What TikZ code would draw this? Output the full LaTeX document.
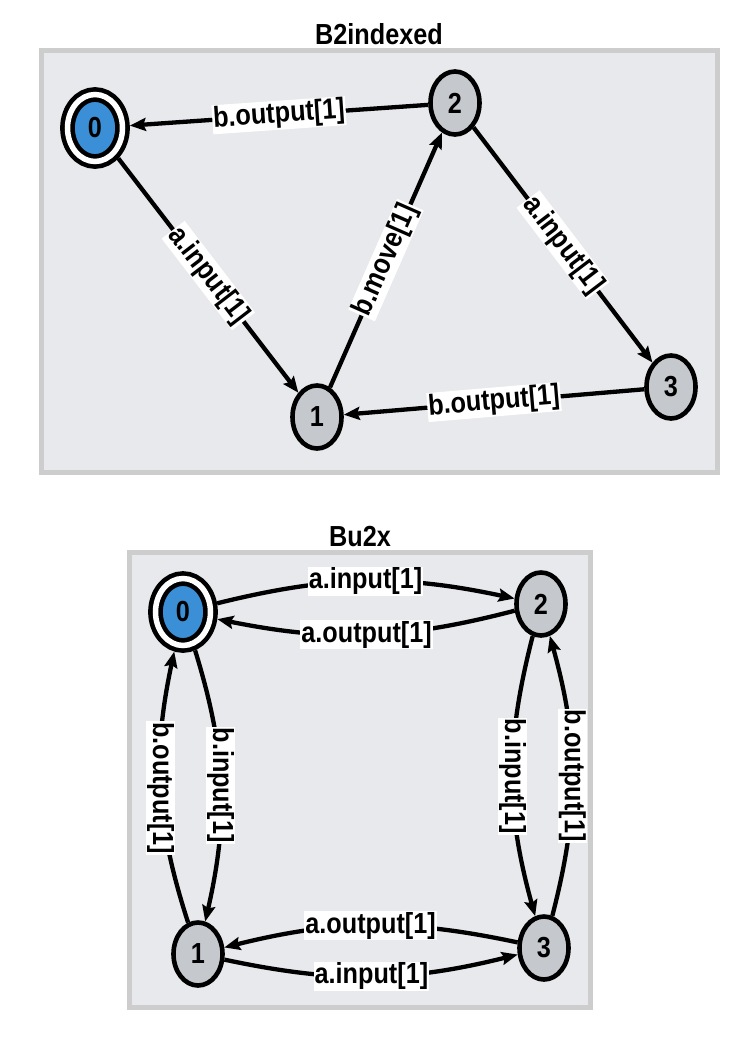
\documentclass[tikz,border=0pt]{standalone}
\usepackage{fontspec}
\setmainfont{Liberation Sans}[FakeStretch=0.87]
\usetikzlibrary{shapes.geometric,arrows.meta}
\definecolor{panelbg}{HTML}{E8E9EC}
\definecolor{panelline}{HTML}{CDCDCD}
\definecolor{stategray}{HTML}{C5C9CE}
\definecolor{startblue}{HTML}{3A8FD6}
\begin{document}
\begin{tikzpicture}[x=1pt,y=-1pt,
    font=\fontsize{29}{32}\selectfont\bfseries,
    state/.style={ellipse,draw,line width=4.6pt,fill=stategray,minimum width=49pt,minimum height=63pt,inner sep=0pt},
    start/.style={ellipse,draw,line width=4.6pt,double=white,double distance=5.5pt,fill=startblue,minimum width=55pt,minimum height=67pt,inner sep=0pt,outer sep=7.4pt},
    edge/.style={line width=4.3pt,-{Stealth[length=16pt,width=13pt,inset=2.5pt]}},
    lbl/.style={fill=white,inner sep=1pt},
    panel/.style={draw=panelline,fill=panelbg,line width=5pt}]
    \useasboundingbox (0,0) rectangle (754,1060);

    % B2indexed
    \draw[panel] (41,50) rectangle (717,472.5);
    \node (title1) at (379,34) {B2indexed};
    \node[start] (p0) at (95,128) {0};
    \node[state] (p2) at (455,103) {2};
    \node[state] (p1) at (317,417) {1};
    \node[state] (p3) at (671,387) {3};

    \draw[edge] (p2) -- node[lbl,sloped] {b.output[1]} (p0);
    \draw[edge] (p0) -- node[lbl,sloped] {a.input[1]} (p1);
    \draw[edge] (p1) -- node[lbl,sloped] {b.move[1]} (p2);
    \draw[edge] (p2) -- node[lbl,sloped] {a.input[1]} (p3);
    \draw[edge] (p3) -- node[lbl,sloped] {b.output[1]} (p1);

    % Bu2x
    \draw[panel] (129.5,552.5) rectangle (590.5,1007.5);
    \node (title2) at (360,537) {Bu2x};
    \node[start] (q0) at (183,612) {0};
    \node[state] (q2) at (541,604) {2};
    \node[state] (q1) at (198,954) {1};
    \node[state] (q3) at (544,948) {3};

    \draw[edge] (q0) to[bend left=13] node[lbl] {a.input[1]} (q2);
    \draw[edge] (q2) to[bend left=13] node[lbl] {a.output[1]} (q0);
    \draw[edge] (q0) to[bend left=15] node[lbl,rotate=-90] {b.input[1]} (q1);
    \draw[edge] (q1) to[bend left=15] node[lbl,rotate=-90] {b.output[1]} (q0);
    \draw[edge] (q2) to[bend right=15] node[lbl,rotate=-90] {b.input[1]} (q3);
    \draw[edge] (q3) to[bend right=15] node[lbl,rotate=-90] {b.output[1]} (q2);
    \draw[edge] (q3) to[bend right=13] node[lbl] {a.output[1]} (q1);
    \draw[edge] (q1) to[bend right=13] node[lbl] {a.input[1]} (q3);

\end{tikzpicture}
\end{document}
